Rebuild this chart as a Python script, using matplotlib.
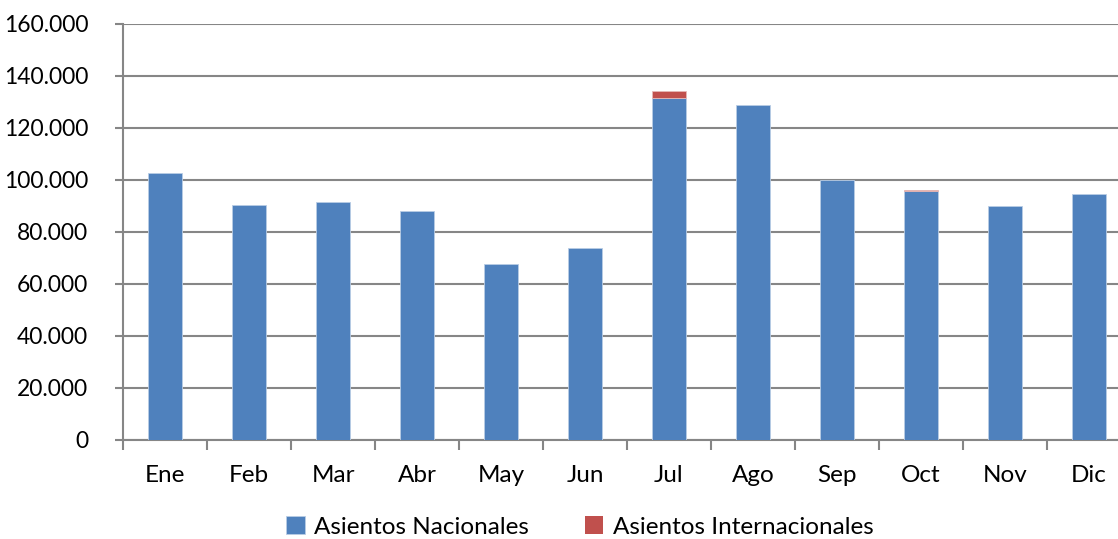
import numpy as np
import matplotlib
matplotlib.use("Agg")
import matplotlib.pyplot as plt
from matplotlib.ticker import FuncFormatter, FixedLocator

plt.rcParams['font.family'] = ['Lato', 'DejaVu Sans']

# monthly seat counts
months = ["Ene", "Feb", "Mar", "Abr", "May", "Jun",
          "Jul", "Ago", "Sep", "Oct", "Nov", "Dic"]
nacionales = [102700, 90400, 91500, 88100, 67700, 73800,
              131400, 128800, 100000, 95800, 90000, 94600]
internacionales = [0, 0, 0, 0, 0, 0,
                   2700, 0, 0, 350, 0, 0]

blue = '#4F81BD'
red = '#C0504D'
grid_col = '#868686'

fig = plt.figure(figsize=(11.18, 5.39), dpi=100, facecolor='white')
ax = fig.add_axes([123/1118, 99/539, 1008/1118, 416/539])

x = np.arange(len(months))
ax.bar(x, nacionales, width=0.4, color=blue, edgecolor='#B9CDE5', linewidth=0.6,
       label='Asientos Nacionales', zorder=3)
red_edges = ['#E6B9B8' if v > 0 else 'none' for v in internacionales]
ax.bar(x, internacionales, width=0.4, bottom=nacionales, color=red, edgecolor=red_edges,
       linewidth=0.6, label='Asientos Internacionales', zorder=3)

ax.set_xlim(-0.5, len(months) - 0.5)
ax.set_ylim(0, 160000)
ax.set_yticks(np.arange(0, 160001, 20000))
ax.yaxis.set_major_formatter(FuncFormatter(lambda v, _: f"{int(v):,}".replace(",", ".")))
ax.yaxis.grid(True, color=grid_col, lw=1.5, zorder=0)

# tick marks between categories, labels centred under bars
ax.xaxis.set_major_locator(FixedLocator(np.arange(-0.5, len(months), 1.0)))
ax.xaxis.set_major_formatter(FuncFormatter(lambda v, _: ""))
ax.xaxis.set_minor_locator(FixedLocator(x))
ax.set_xticklabels(months, minor=True)
ax.tick_params(axis='x', which='major', length=7, width=1.5, color=grid_col, direction='out')
ax.tick_params(axis='x', which='minor', length=0, pad=18, labelsize=17.5)
ax.tick_params(axis='y', length=6, width=1.5, color=grid_col, labelsize=16.5, pad=19)

for side in ['top', 'right']:
    ax.spines[side].set_visible(False)
for side in ['left', 'bottom']:
    ax.spines[side].set_color(grid_col)
    ax.spines[side].set_linewidth(1.5)

fig.legend(loc='center', bbox_to_anchor=(580/1118, 1 - 527/539), ncol=2, frameon=False,
           fontsize=17.5, handlelength=0.75, handleheight=0.75, handletextpad=0.4,
           columnspacing=2.3)

fig.savefig('out.png', dpi=100, facecolor='white')
